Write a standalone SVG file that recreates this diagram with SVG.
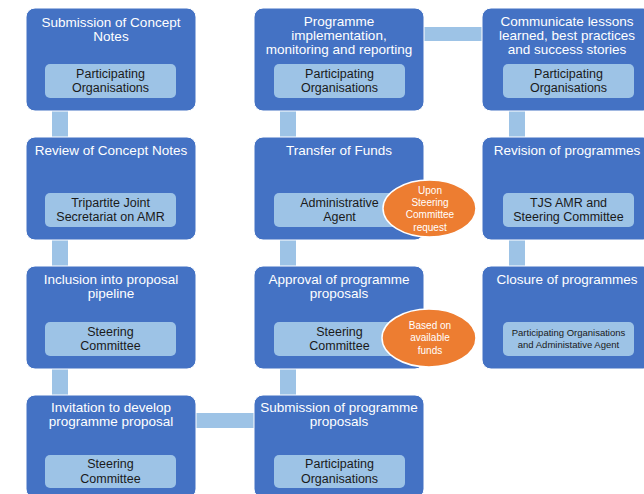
<svg xmlns="http://www.w3.org/2000/svg" width="644" height="494" viewBox="0 0 644 494">
<style>
.box{fill:#4472C4;stroke:#fff;stroke-width:1}
.in{fill:#9DC3E6}
.conn{fill:#9DC3E6}
.t{font-family:"Liberation Sans",Arial,sans-serif;font-size:13.5px;fill:#fff;text-anchor:middle}
.i{font-family:"Liberation Sans",Arial,sans-serif;font-size:12.5px;fill:#1a1a1a;text-anchor:middle}
.s{font-family:"Liberation Sans",Arial,sans-serif;font-size:9.5px;fill:#1a1a1a;text-anchor:middle}
.ov{fill:#ED7D31;stroke:#fff;stroke-width:1.5}
.o{font-family:"Liberation Sans",Arial,sans-serif;font-size:10px;fill:#fff;text-anchor:middle}
</style>
<rect width="644" height="494" fill="#fff"/>
<g id="connectors">
<rect class="conn" x="52" y="111" width="16" height="26"/>
<rect class="conn" x="52" y="240" width="16" height="26"/>
<rect class="conn" x="52" y="369" width="16" height="26"/>
<rect class="conn" x="280" y="111" width="16" height="26"/>
<rect class="conn" x="280" y="240" width="16" height="26"/>
<rect class="conn" x="280" y="369" width="16" height="26"/>
<rect class="conn" x="509" y="111" width="16" height="26"/>
<rect class="conn" x="509" y="240" width="16" height="26"/>
<rect class="conn" x="424" y="27" width="58" height="14"/>
<rect class="conn" x="196" y="413" width="58" height="15"/>
</g>
<g id="n1">
<rect class="box" x="26" y="8" width="170" height="103" rx="9"/>
<text class="t" x="111" y="27">Submission of Concept</text>
<text class="t" x="111" y="41">Notes</text>
<rect class="in" x="45" y="64" width="131" height="34" rx="5"/>
<text class="i" x="110.5" y="78">Participating</text>
<text class="i" x="110.5" y="92">Organisations</text>
</g>
<g id="n2">
<rect class="box" x="26" y="137" width="170" height="103" rx="9"/>
<text class="t" x="111" y="155">Review of Concept Notes</text>
<rect class="in" x="45" y="193" width="131" height="34" rx="5"/>
<text class="i" x="110.5" y="207">Tripartite Joint</text>
<text class="i" x="110.5" y="221">Secretariat on AMR</text>
</g>
<g id="n3">
<rect class="box" x="26" y="266" width="170" height="103" rx="9"/>
<text class="t" x="111" y="284">Inclusion into proposal</text>
<text class="t" x="111" y="298">pipeline</text>
<rect class="in" x="45" y="322" width="131" height="34" rx="5"/>
<text class="i" x="110.5" y="336">Steering</text>
<text class="i" x="110.5" y="350">Committee</text>
</g>
<g id="n4">
<rect class="box" x="26" y="395" width="170" height="103" rx="9"/>
<text class="t" x="111" y="412">Invitation to develop</text>
<text class="t" x="111" y="426">programme proposal</text>
<rect class="in" x="45" y="455" width="131" height="33" rx="5"/>
<text class="i" x="110.5" y="468">Steering</text>
<text class="i" x="110.5" y="483">Committee</text>
</g>
<g id="n5">
<rect class="box" x="254" y="8" width="170" height="103" rx="9"/>
<text class="t" x="339" y="26">Programme</text>
<text class="t" x="339" y="40">implementation,</text>
<text class="t" x="339" y="54">monitoring and reporting</text>
<rect class="in" x="274" y="64" width="131" height="34" rx="5"/>
<text class="i" x="339.5" y="78">Participating</text>
<text class="i" x="339.5" y="92">Organisations</text>
</g>
<g id="n6">
<rect class="box" x="254" y="137" width="170" height="103" rx="9"/>
<text class="t" x="339" y="155">Transfer of Funds</text>
<rect class="in" x="274" y="193" width="131" height="34" rx="5"/>
<text class="i" x="339.5" y="207">Administrative</text>
<text class="i" x="339.5" y="221">Agent</text>
</g>
<g id="n7">
<rect class="box" x="254" y="266" width="170" height="103" rx="9"/>
<text class="t" x="339" y="284">Approval of programme</text>
<text class="t" x="339" y="298">proposals</text>
<rect class="in" x="274" y="322" width="131" height="34" rx="5"/>
<text class="i" x="339.5" y="336">Steering</text>
<text class="i" x="339.5" y="350">Committee</text>
</g>
<g id="n8">
<rect class="box" x="254" y="395" width="170" height="103" rx="9"/>
<text class="t" x="339" y="412">Submission of programme</text>
<text class="t" x="339" y="426">proposals</text>
<rect class="in" x="274" y="455" width="131" height="33" rx="5"/>
<text class="i" x="339.5" y="468">Participating</text>
<text class="i" x="339.5" y="483">Organisations</text>
</g>
<g id="n9">
<rect class="box" x="482" y="8" width="170" height="103" rx="9"/>
<text class="t" x="567" y="26">Communicate lessons</text>
<text class="t" x="567" y="40">learned, best practices</text>
<text class="t" x="567" y="54">and success stories</text>
<rect class="in" x="503" y="64" width="131" height="34" rx="5"/>
<text class="i" x="568.5" y="78">Participating</text>
<text class="i" x="568.5" y="92">Organisations</text>
</g>
<g id="n10">
<rect class="box" x="482" y="137" width="170" height="103" rx="9"/>
<text class="t" x="567" y="155">Revision of programmes</text>
<rect class="in" x="503" y="193" width="131" height="34" rx="5"/>
<text class="i" x="568.5" y="207">TJS AMR and</text>
<text class="i" x="568.5" y="221">Steering Committee</text>
</g>
<g id="n11">
<rect class="box" x="482" y="266" width="170" height="103" rx="9"/>
<text class="t" x="567" y="284">Closure of programmes</text>
<rect class="in" x="503" y="322" width="131" height="34" rx="5"/>
<text class="s" x="568.5" y="336">Participating Organisations</text>
<text class="s" x="568.5" y="348">and Administative Agent</text>
</g>
<g id="e1">
<ellipse class="ov" cx="429.5" cy="208.5" rx="46.5" ry="28.5"/>
<text class="o" x="430" y="194">Upon</text>
<text class="o" x="430" y="206">Steering</text>
<text class="o" x="430" y="218">Committee</text>
<text class="o" x="430" y="231">request</text>
</g>
<g id="e2">
<ellipse class="ov" cx="429" cy="338" rx="47" ry="29"/>
<text class="o" x="430" y="329">Based on</text>
<text class="o" x="430" y="341">available</text>
<text class="o" x="430" y="354">funds</text>
</g>
</svg>
